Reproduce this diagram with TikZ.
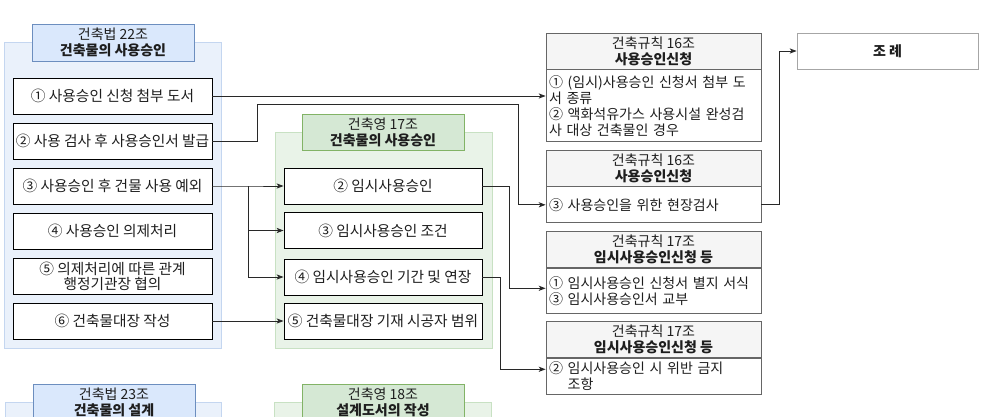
\documentclass[tikz,border=0pt]{standalone}
\usepackage{fontspec}
\setmainfont{Noto Sans CJK KR}
\usepackage{xcolor}
\usepackage{tikz}
\usetikzlibrary{arrows.meta,calc,positioning}
\definecolor{lawBlue}{RGB}{218,232,252}
\definecolor{lawBlueEdge}{RGB}{108,142,191}
\definecolor{lawBluePale}{RGB}{234,241,251}
\definecolor{lawBlueRule}{RGB}{196,214,240}
\definecolor{decGreen}{RGB}{213,232,212}
\definecolor{decGreenEdge}{RGB}{130,179,102}
\definecolor{decGreenPale}{RGB}{233,243,232}
\definecolor{decGreenRule}{RGB}{200,225,195}
\definecolor{ruleGray}{RGB}{245,245,245}
\definecolor{ruleEdge}{RGB}{102,102,102}
\definecolor{ordEdge}{RGB}{166,166,166}
\definecolor{lawInk}{RGB}{30,30,30}
\definecolor{lawLine}{RGB}{40,40,40}
\tikzset{
  lawtext/.style={font=\fontsize{14}{16}\selectfont,text=lawInk},
  itemtext/.style={font=\fontsize{14.7}{16}\selectfont,text=lawInk},
  bluepanel/.style={draw=lawBlueRule,line width=0.8pt,fill=lawBluePale,anchor=north west},
  greenpanel/.style={draw=decGreenRule,line width=0.8pt,fill=decGreenPale,anchor=north west},
  blueheader/.style={lawtext,draw=lawBlueEdge,line width=0.8pt,fill=lawBlue,align=center,minimum width=162,minimum height=37,inner sep=0pt},
  greenheader/.style={lawtext,draw=decGreenEdge,line width=0.8pt,fill=decGreen,align=center,minimum width=162,minimum height=36,inner sep=0pt},
  lawitem/.style={itemtext,draw=black,line width=0.9pt,fill=white,align=center,minimum width=199,minimum height=36,inner sep=0pt},
  decitem/.style={itemtext,draw=black,line width=0.9pt,fill=white,align=center,minimum width=198,minimum height=36,inner sep=0pt},
  rulehead/.style={lawtext,draw=ruleEdge,line width=0.8pt,fill=ruleGray,align=center,minimum width=215,minimum height=36,inner sep=0pt},
  rulebody/.style={lawtext,draw=ruleEdge,line width=0.8pt,fill=white,align=left,text width=209,inner xsep=3,inner ysep=0pt,minimum width=215},
  ordbox/.style={lawtext,draw=ordEdge,line width=0.8pt,fill=white,align=center,minimum width=181,minimum height=36,font=\fontsize{14}{16}\selectfont\bfseries},
  lawflow/.style={-{Stealth[length=2.4mm,width=1.8mm,inset=0.6mm]},draw=lawLine,line width=0.9pt},
}

\begin{document}
\begin{tikzpicture}[x=1pt,y=-1pt]
\clip (0,0) rectangle (987,417);
\fill[white] (0,0) rectangle (987,417);

% Panel: building act art. 22.
\node[bluepanel,minimum width=217,minimum height=306] (actpanel) at (4,42) {};
\node[blueheader] (acthead) at (113,42.5) {건축법 22조\\\textbf{건축물의 사용승인}};
\node[lawitem] (act1) at (112.5,96) {① 사용승인 신청 첨부 도서};
\node[lawitem] (act2) at (112.5,141) {② 사용 검사 후 사용승인서 발급};
\node[lawitem] (act3) at (112.5,186) {③ 사용승인 후 건물 사용 예외};
\node[lawitem] (act4) at (112.5,231) {④ 사용승인 의제처리};
\node[lawitem,font=\fontsize{14.7}{15}\selectfont] (act5) at (112.5,276) {⑤ 의제처리에 따른 관계\\행정기관장 협의};
\node[lawitem] (act6) at (112.5,321) {⑥ 건축물대장 작성};

% Panel: decree art. 17.
\node[greenpanel,minimum width=217,minimum height=216] (decpanel) at (275,132) {};
\node[greenheader] (dechead) at (383,132) {건축영 17조\\\textbf{건축물의 사용승인}};
\node[decitem] (dec2) at (383,186) {② 임시사용승인};
\node[decitem] (dec3) at (383,230.5) {③ 임시사용승인 조건};
\node[decitem] (dec4) at (383,277) {④ 임시사용승인 기간 및 연장};
\node[decitem] (dec5) at (383,321) {⑤ 건축물대장 기재 시공자 범위};

% Lower panels, cut by the page edge.
\node[bluepanel,minimum width=216,minimum height=80] (actpanelb) at (5,402) {};
\node[blueheader] (actheadb) at (114,402.5) {건축법 23조\\\textbf{건축물의 설계}};
\node[greenpanel,minimum width=217,minimum height=80] (decpanelb) at (274,402) {};
\node[greenheader] (decheadb) at (383,402) {건축영 18조\\\textbf{설계도서의 작성}};

% Rules column.
\node[rulehead] (ruleAhead) at (653.5,51) {건축규칙 16조\\\textbf{사용승인신청}};
\node[rulebody,minimum height=72,anchor=north] (ruleA) at (ruleAhead.south) {① (임시)사용승인 신청서 첨부 도\\서 종류\\② 액화석유가스 사용시설 완성검\\사 대상 건축물인 경우};
\node[rulehead] (ruleBhead) at (653.5,168) {건축규칙 16조\\\textbf{사용승인신청}};
\node[rulebody,minimum height=36,anchor=north] (ruleB) at (ruleBhead.south) {③ 사용승인을 위한 현장검사};
\node[rulehead] (ruleChead) at (653.5,249.5) {건축규칙 17조\\\textbf{임시사용승인신청 등}};
\node[rulebody,minimum height=45,anchor=north] (ruleC) at (ruleChead.south) {① 임시사용승인 신청서 별지 서식\\③ 임시사용승인서 교부};
\node[rulehead] (ruleDhead) at (653.5,339.5) {건축규칙 17조\\\textbf{임시사용승인신청 등}};
\node[rulebody,minimum height=36,anchor=north] (ruleD) at (ruleDhead.south) {② 임시사용승인 시 위반 금지\\\phantom{② }조항};

\node[ordbox] (ordin) at (887.5,51) {조 례};

% Connectors.
\coordinate (jogL) at (257,104);
\coordinate (jogR) at (518,104);
\coordinate (split) at (248,186);
\draw[lawflow] (act1.east) -- (act1.east -| ruleA.west);
\draw[lawflow] (act2.east) -| (jogL) -- (jogR) |- (ruleB.west);
\draw[lawflow] (act3.east) -- (split) -- (dec2.west);
\draw[lawflow] (split) |- (dec3.west);
\draw[lawflow] (split) |- (dec4.west);
\draw[lawflow] (act6.east) -- (dec5.west);
\draw[lawflow] (dec2.east) -- ++(27,0) |- ([yshift=2.5pt]ruleC.west);
\draw[lawflow] (dec4.east) -- ++(18,0) |- ([yshift=7pt]ruleD.west);
\draw[lawflow] (ruleB.east) -- ++(18,0) |- (ordin.west);
\end{tikzpicture}
\end{document}
